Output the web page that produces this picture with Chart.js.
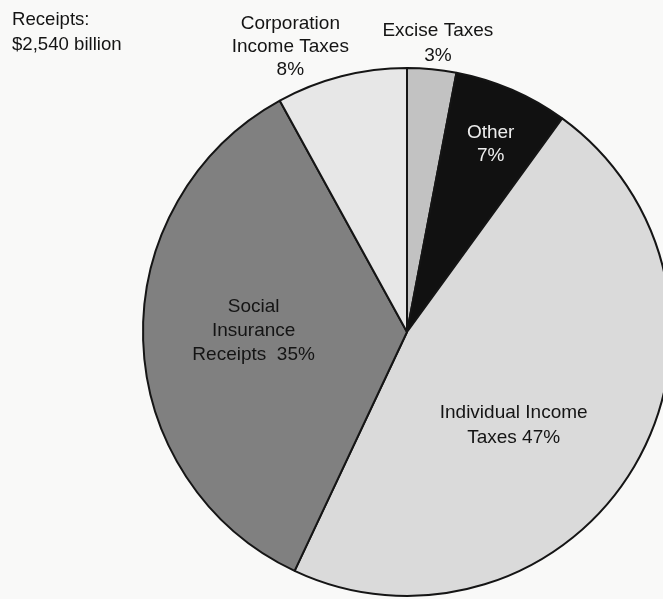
<!DOCTYPE html>
<html>
<head>
<meta charset="utf-8">
<script src="https://cdn.jsdelivr.net/npm/chart.js@4.4.1/dist/chart.umd.min.js"></script>
<style>
  html, body { margin: 0; padding: 0; background: #f9f9f8; overflow: hidden; }
  body { width: 663px; height: 599px; position: relative; }
  #wrap { position: absolute; left: 0; top: 0; width: 700px; height: 599px; }
  #total {
    position: absolute; left: 12px; top: 6px;
    font: 18.6px "Liberation Sans", Arial, sans-serif; line-height: 25px; color: #141414;
  }
</style>
</head>
<body>
<div id="wrap"><canvas id="pie" width="700" height="599"></canvas></div>
<div id="total">Receipts:<br>$2,540 billion</div>
<script>
// Federal receipts by source, clockwise from 12 o'clock
const categories = ['Excise Taxes', 'Other', 'Individual Income Taxes', 'Social Insurance Receipts', 'Corporation Income Taxes'];
const shares = [3, 7, 47, 35, 8];
const labelLines = [
  ['Excise Taxes', shares[0] + '%'],
  ['Other', shares[1] + '%'],
  ['Individual Income', 'Taxes ' + shares[2] + '%'],
  ['Social', 'Insurance', 'Receipts  ' + shares[3] + '%'],
  ['Corporation', 'Income Taxes', shares[4] + '%']
];

// Styling: fill shades and where each label sits (fraction of radius from centre)
const fills = ['#c2c2c2', '#111111', '#dadada', '#808080', '#e7e7e7'];
const labelColors = ['#141414', '#eeeeee', '#141414', '#141414', '#141414'];
const labelAnchors = [
  { fx: 0.117, fy: -1.121, lh: 25 },
  { fx: 0.317, fy: -0.736, lh: 23 },
  { fx: 0.404, fy: 0.325, lh: 25 },
  { fx: -0.581, fy: -0.075, lh: 24 },
  { fx: -0.442, fy: -1.147, lh: 23 }
];

const sliceLabels = {
  id: 'sliceLabels',
  afterDatasetsDraw(chart) {
    const ctx = chart.ctx;
    const arcs = chart.getDatasetMeta(0).data;
    ctx.save();
    ctx.font = '19px "Liberation Sans", Arial, sans-serif';
    ctx.textAlign = 'center';
    ctx.textBaseline = 'alphabetic';
    arcs.forEach((arc, i) => {
      const a = labelAnchors[i];
      const x = arc.x + a.fx * arc.outerRadius;
      const y = arc.y + a.fy * arc.outerRadius;
      ctx.fillStyle = labelColors[i];
      labelLines[i].forEach((line, j) => ctx.fillText(line, x, y + j * a.lh));
    });
    ctx.restore();
  }
};

new Chart(document.getElementById('pie'), {
  type: 'pie',
  data: {
    labels: categories,
    datasets: [{
      data: shares,
      backgroundColor: fills,
      borderColor: '#151515',
      borderWidth: 2
    }]
  },
  options: {
    responsive: false,
    animation: false,
    rotation: 0,
    layout: { padding: { left: 142, top: 67, right: 28, bottom: 2 } },
    plugins: {
      legend: { display: false },
      tooltip: { enabled: false }
    }
  },
  plugins: [sliceLabels]
});
</script>
</body>
</html>
